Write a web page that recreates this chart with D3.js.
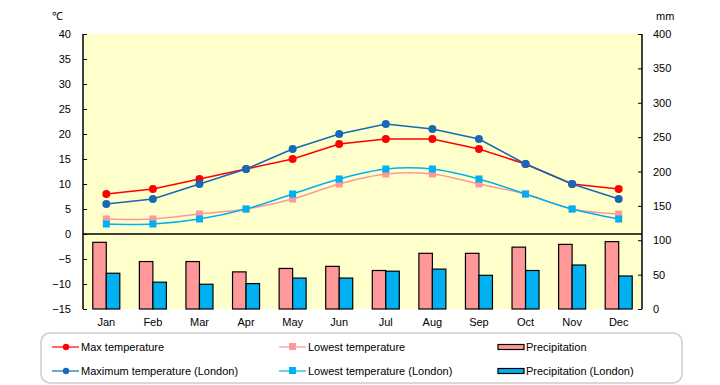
<!DOCTYPE html>
<html>
<head>
<meta charset="utf-8">
<script src="https://cdn.jsdelivr.net/npm/d3@7"></script>
<style>
  body { margin: 0; background: #fff; }
  svg text { font-family: "Liberation Sans", Arial, sans-serif; font-size: 11px; fill: #000; }
</style>
</head>
<body>
<div id="chart"></div>
<script>
//data
var months = ["Jan", "Feb", "Mar", "Apr", "May", "Jun", "Jul", "Aug", "Sep", "Oct", "Nov", "Dec"];
var maxTemp = [8, 9, 11, 13, 15, 18, 19, 19, 17, 14, 10, 9];
var maxTempLondon = [6, 7, 10, 13, 17, 20, 22, 21, 19, 14, 10, 7];
var lowTemp = [3, 3, 4, 5, 7, 10, 12, 12, 10, 8, 5, 4];
var lowTempLondon = [2, 2, 3, 5, 8, 11, 13, 13, 11, 8, 5, 3];
var precip = [97, 69, 69, 54, 59, 62, 56, 81, 81, 90, 94, 98];
var precipLondon = [52, 39, 36, 37, 45, 45, 55, 58, 49, 56, 64, 48];
var tempTicks = [40, 35, 30, 25, 20, 15, 10, 5, 0, -5, -10, -15];
var mmTicks = [400, 350, 300, 250, 200, 150, 100, 50, 0];

//layout (window.top is reserved, so use plot* names)
var width = 720, height = 385;
var plotLeft = 83, plotRight = 642, plotTop = 34, plotBottom = 309;

var svg = d3.select("#chart").append("svg")
  .attr("width", width)
  .attr("height", height);

//scales
var x = d3.scaleBand()
  .domain(months)
  .range([plotLeft, plotRight])
  .paddingInner(0.42)
  .paddingOuter(0.21);
var sub = d3.scaleBand()
  .domain(["main", "london"])
  .range([0, x.bandwidth()]);
var yT = d3.scaleLinear().domain([-15, 40]).range([plotBottom, plotTop]);
var yP = d3.scaleLinear().domain([0, 400]).range([plotBottom, plotTop]);
var cx = function(m) { return x(m) + x.bandwidth() / 2; };

//plot background
svg.append("rect")
  .attr("x", plotLeft).attr("y", plotTop)
  .attr("width", plotRight - plotLeft).attr("height", plotBottom - plotTop)
  .style("fill", "#ffffcc");

//bars
var series = [
  { key: "main", values: precip, fill: "#ff9999" },
  { key: "london", values: precipLondon, fill: "#00b0f0" }
];
series.forEach(function(s) {
  svg.append("g").selectAll("rect")
    .data(s.values)
    .enter()
    .append("rect")
      .attr("x", function(d, i) { return x(months[i]) + sub(s.key); })
      .attr("y", function(d) { return yP(d); })
      .attr("width", sub.bandwidth())
      .attr("height", function(d) { return yP(0) - yP(d); })
      .style("fill", s.fill)
      .style("stroke", "#000")
      .style("stroke-width", 1.2);
});

//zero line
svg.append("line")
  .attr("x1", plotLeft).attr("x2", plotRight)
  .attr("y1", yT(0)).attr("y2", yT(0))
  .style("stroke", "#000").style("stroke-width", 1.5);

//axes
var axisL = svg.append("g")
  .attr("transform", "translate(" + plotLeft + ",0)")
  .call(d3.axisRight(yT).tickValues(tempTicks).tickSize(4).tickFormat(""));
axisL.select(".domain").attr("d", "M0," + plotTop + "V" + plotBottom);
axisL.selectAll("line").style("stroke", "#000");
svg.append("g").selectAll("text")
  .data(tempTicks)
  .enter()
  .append("text")
    .attr("x", 71)
    .attr("y", function(d) { return yT(d) + 4; })
    .attr("text-anchor", "end")
    .text(function(d) { return d < 0 ? "\u2212" + Math.abs(d) : d; });

var axisR = svg.append("g")
  .attr("transform", "translate(" + plotRight + ",0)")
  .call(d3.axisLeft(yP).tickValues(mmTicks).tickSize(4).tickFormat(""));
axisR.select(".domain").attr("d", "M0," + plotTop + "V" + plotBottom);
axisR.selectAll("line").style("stroke", "#000");
svg.append("g").selectAll("text")
  .data(mmTicks)
  .enter()
  .append("text")
    .attr("x", 653)
    .attr("y", function(d) { return yP(d) + 4; })
    .text(function(d) { return d; });

svg.selectAll(".domain").style("stroke", "#000").style("stroke-width", 1.5);

//month labels
svg.append("g").selectAll("text")
  .data(months)
  .enter()
  .append("text")
    .attr("x", function(d) { return cx(d); })
    .attr("y", 326)
    .attr("text-anchor", "middle")
    .text(function(d) { return d; });

//units
svg.append("text").attr("x", 52).attr("y", 20).text("\u2103");
svg.append("text").attr("x", 656).attr("y", 20).text("mm");

//lines
var lines = [
  { values: lowTemp, color: "#ff9999", shape: "square", curve: d3.curveCatmullRom },
  { values: lowTempLondon, color: "#00b0f0", shape: "square", curve: d3.curveCatmullRom },
  { values: maxTemp, color: "#ff0000", shape: "circle", curve: d3.curveLinear },
  { values: maxTempLondon, color: "#1469b8", shape: "circle", curve: d3.curveLinear }
];
lines.forEach(function(s) {
  var line = d3.line()
    .x(function(d, i) { return cx(months[i]); })
    .y(function(d) { return yT(d); })
    .curve(s.curve);
  svg.append("path")
    .datum(s.values)
    .attr("d", line)
    .style("fill", "none")
    .style("stroke", s.color)
    .style("stroke-width", 1.5);
  var g = svg.append("g");
  if (s.shape == "circle") {
    g.selectAll("circle")
      .data(s.values)
      .enter()
      .append("circle")
        .attr("cx", function(d, i) { return cx(months[i]); })
        .attr("cy", function(d) { return yT(d); })
        .attr("r", 4)
        .style("fill", s.color);
  } else {
    g.selectAll("rect")
      .data(s.values)
      .enter()
      .append("rect")
        .attr("x", function(d, i) { return cx(months[i]) - 3.5; })
        .attr("y", function(d) { return yT(d) - 3.5; })
        .attr("width", 7)
        .attr("height", 7)
        .style("fill", s.color);
  }
});

//legend
svg.append("rect")
  .attr("x", 41).attr("y", 333)
  .attr("width", 641).attr("height", 50)
  .attr("rx", 9)
  .style("fill", "#fff")
  .style("stroke", "#cccccc")
  .style("stroke-width", 1.5);

var legendItems = [
  { label: "Max temperature", color: "#ff0000", shape: "circle", x: 52, y: 347 },
  { label: "Maximum temperature (London)", color: "#1469b8", shape: "circle", x: 52, y: 371 },
  { label: "Lowest temperature", color: "#ff9999", shape: "square", x: 279, y: 347 },
  { label: "Lowest temperature (London)", color: "#00b0f0", shape: "square", x: 279, y: 371 },
  { label: "Precipitation", color: "#ff9999", shape: "bar", x: 498, y: 347 },
  { label: "Precipitation (London)", color: "#00b0f0", shape: "bar", x: 498, y: 371 }
];
legendItems.forEach(function(d) {
  var g = svg.append("g").attr("transform", "translate(" + d.x + "," + d.y + ")");
  if (d.shape == "bar") {
    g.append("rect")
      .attr("x", 0).attr("y", -2.5)
      .attr("width", 26).attr("height", 5)
      .style("fill", d.color).style("stroke", "#000").style("stroke-width", 1.2);
    g.append("text").attr("x", 28).attr("y", 4).text(d.label);
  } else {
    g.append("line")
      .attr("x1", 0).attr("x2", 27)
      .style("stroke", d.color).style("stroke-width", 1.2);
    if (d.shape == "circle") {
      g.append("circle").attr("cx", 14).attr("r", 3.2).style("fill", d.color);
    } else {
      g.append("rect").attr("x", 10).attr("y", -4).attr("width", 7).attr("height", 7).style("fill", d.color);
    }
    g.append("text").attr("x", 29).attr("y", 4).text(d.label);
  }
});
</script>
</body>
</html>
